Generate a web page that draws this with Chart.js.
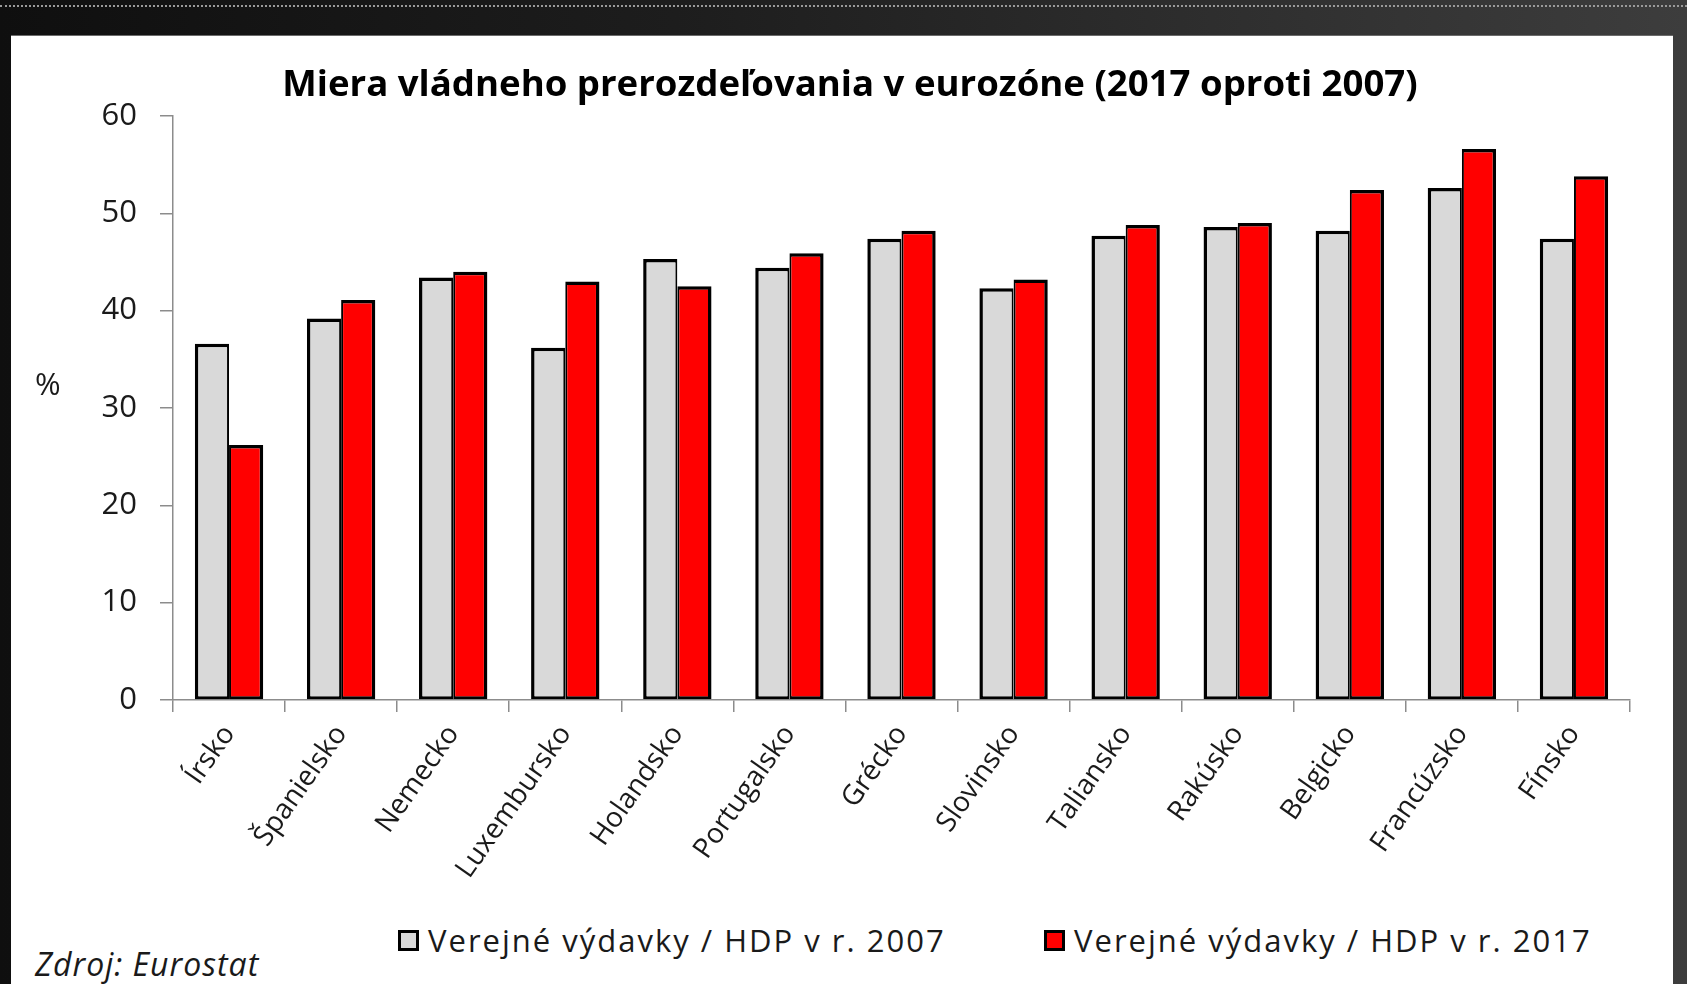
<!DOCTYPE html>
<html lang="sk">
<head>
<meta charset="utf-8">
<title>Miera vládneho prerozdeľovania v eurozóne</title>
<script src="https://cdn.jsdelivr.net/npm/chart.js@4.4.1/dist/chart.umd.min.js"></script>
<style>
  html, body { margin: 0; padding: 0; }
  body {
    width: 1687px; height: 984px; overflow: hidden; position: relative;
    background: linear-gradient(90deg, #0f0f0f 0%, #1d1d1d 40%, #3d3d3d 100%);
    font-family: "Open Sans", sans-serif;
  }
  .dots { position: absolute; left: 0; right: 0; top: 5px; border-top: 2px dotted #9a9a9a; }
  .panel {
    position: absolute; left: 11px; top: 35px; width: 1662px; height: 949px;
    background: #fff; border-top: 1px solid #6a6a6a;
  }
  #chart { position: absolute; left: 0; top: 0; }
  .ylabel { position: absolute; left: 24px; top: 332px; font-size: 31px; line-height: 1; color: #1a1a1a; }
  .legend-item { position: absolute; top: 884px; height: 40px; display: flex; align-items: center; }
  .legend-item i { display: inline-block; width: 15px; height: 15px; border: 3px solid #000; margin-right: 9px; }
  .legend-item span { font-size: 31px; letter-spacing: 2px; color: #1a1a1a; }
  .source { position: absolute; left: 24px; top: 906px; font-size: 32px; letter-spacing: 1px; font-style: italic; color: #1a1a1a; }
</style>
</head>
<body>
<div class="dots"></div>
<div class="panel">
  <canvas id="chart" width="1662" height="870"></canvas>
  <div class="ylabel">%</div>
  <div id="legend"></div>
  <div class="source">Zdroj: Eurostat</div>
</div>
<script>
// údaje odčítané z grafu (% HDP)
const categories = ['Írsko', 'Španielsko', 'Nemecko', 'Luxembursko', 'Holandsko', 'Portugalsko',
  'Grécko', 'Slovinsko', 'Taliansko', 'Rakúsko', 'Belgicko', 'Francúzsko', 'Fínsko'];
const spend2007 = [36.6, 39.2, 43.4, 36.2, 45.3, 44.4, 47.4, 42.3, 47.7, 48.6, 48.2, 52.6, 47.4];
const spend2017 = [26.2, 41.1, 44.0, 43.0, 42.5, 45.9, 48.2, 43.2, 48.8, 49.0, 52.4, 56.6, 53.8];
const seriesLabels = ['Verejné výdavky / HDP v r. 2007', 'Verejné výdavky / HDP v r. 2017'];
const yTicks = [0, 10, 20, 30, 40, 50, 60];
const titleText = 'Miera vládneho prerozdeľovania v eurozóne (2017 oproti 2007)';

const FONT = '"Open Sans", sans-serif';
const colors = ['#d9d9d9', '#ff0000'];
const axisColor = '#8c8c8c';

// veľkosť titulku podľa šírky v originále
function fitFont(text, weight, target) {
    const c = document.createElement('canvas').getContext('2d');
    c.font = weight + ' 100px ' + FONT;
    return Math.round(100 * target / c.measureText(text).width * 10) / 10;
}
const titleSize = fitFont(titleText, 'bold', 1136);
const titleLine = titleSize * 1.2;
const titleTop = 50 - titleLine / 2;

// legenda
const legend = document.getElementById('legend');
const legendLeft = [387, 1033];
seriesLabels.forEach((lbl, i) => {
    const item = document.createElement('div');
    item.className = 'legend-item';
    item.style.left = legendLeft[i] + 'px';
    item.innerHTML = `<i style="background:${colors[i]}"></i><span>${lbl}</span>`;
    legend.appendChild(item);
});

const padLeft = 59;

const ctx = document.getElementById('chart').getContext('2d');
new Chart(ctx, {
    type: 'bar',
    data: {
        labels: categories,
        datasets: [{
            label: seriesLabels[0],
            data: spend2007,
            backgroundColor: colors[0],
            borderColor: '#000',
            borderWidth: { top: 3.5, left: 3.5, bottom: 3, right: 2 },
            borderSkipped: false,
            categoryPercentage: 0.61,
            barPercentage: 1
        }, {
            label: seriesLabels[1],
            data: spend2017,
            backgroundColor: colors[1],
            borderColor: '#000',
            borderWidth: { top: 3.5, left: 2, bottom: 3, right: 3.5 },
            borderSkipped: false,
            categoryPercentage: 0.61,
            barPercentage: 1
        }]
    },
    options: {
        responsive: false,
        animation: false,
        devicePixelRatio: 1,
        layout: { padding: { left: padLeft, right: 43, top: 0, bottom: 0 } },
        plugins: {
            legend: { display: false },
            tooltip: { enabled: false },
            title: {
                display: true,
                text: titleText,
                color: '#000',
                font: { family: FONT, size: titleSize, weight: 'bold', lineHeight: 1.2 },
                padding: { top: titleTop, bottom: 80 - titleTop - titleLine }
            }
        },
        scales: {
            x: {
                grid: {
                    offset: true, drawOnChartArea: false, drawTicks: true,
                    tickLength: 12, color: axisColor, lineWidth: 1.5
                },
                border: { color: axisColor, width: 1.5 },
                ticks: {
                    autoSkip: false, minRotation: 55, maxRotation: 55, padding: 7,
                    color: '#1a1a1a', font: { family: FONT, size: 28 }
                },
                afterFit: s => { s.height = 206; }
            },
            y: {
                min: yTicks[0],
                max: yTicks[yTicks.length - 1],
                grid: { drawOnChartArea: false, tickLength: 13, color: axisColor, lineWidth: 1.5 },
                border: { color: axisColor, width: 1.5 },
                ticks: {
                    stepSize: yTicks[1] - yTicks[0], padding: 23,
                    color: '#1a1a1a', font: { family: FONT, size: 31 }
                },
                afterFit: s => { s.width = 162 - padLeft; }
            }
        }
    }
});
</script>
</body>
</html>
